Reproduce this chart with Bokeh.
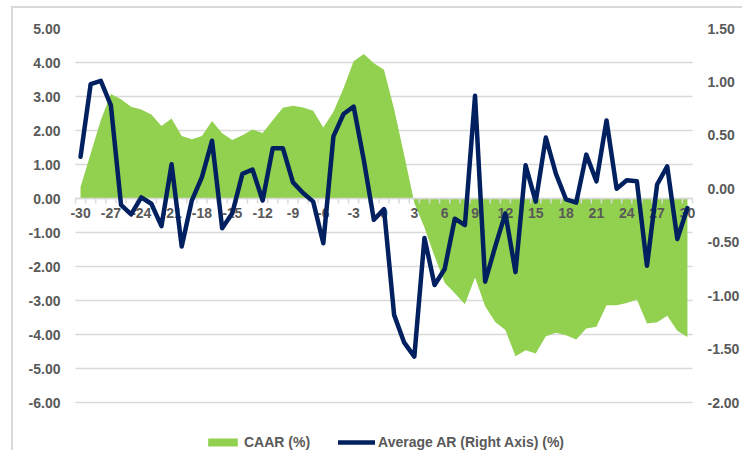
from bokeh.plotting import figure
from bokeh.models import (Range1d, LinearAxis, FixedTicker, NumeralTickFormatter,
                          Legend, LegendItem, Grid)
from bokeh.embed import file_html
from bokeh.resources import INLINE

# ---------------- data ----------------
days = list(range(-30, 31))

caar = [0.34, 1.32, 2.30, 3.07, 2.92, 2.70, 2.62, 2.47, 2.13, 2.35,
        1.84, 1.74, 1.84, 2.28, 1.92, 1.72, 1.86, 2.03, 1.93, 2.30,
        2.67, 2.73, 2.68, 2.58, 2.09, 2.55, 3.24, 4.04, 4.25, 3.98,
        3.79,
        2.63, 1.27, -0.13, -0.85, -1.70, -2.48, -2.79, -3.11, -2.32, -3.17,
        -3.63, -3.87, -4.64, -4.46, -4.56, -4.05, -3.95, -4.02, -4.15, -3.82,
        -3.77, -3.14, -3.14, -3.07, -2.97, -3.68, -3.64, -3.45, -3.89, -4.07]

avg_ar = [0.30, 0.98, 1.01, 0.78, -0.15, -0.24, -0.08, -0.14, -0.35, 0.23,
          -0.54, -0.11, 0.11, 0.45, -0.37, -0.23, 0.14, 0.18, -0.11, 0.38,
          0.38, 0.06, -0.04, -0.12, -0.51, 0.49, 0.70, 0.77, 0.27, -0.29,
          -0.19,
          -1.18, -1.44, -1.57, -0.46, -0.90, -0.75, -0.28, -0.34, 0.87, -0.87,
          -0.54, -0.23, -0.78, 0.22, -0.12, 0.48, 0.14, -0.10, -0.13, 0.32,
          0.07, 0.64, 0.00, 0.08, 0.07, -0.72, 0.04, 0.21, -0.47, -0.18]

x_tick_days = days[::3]
x_tick_labels = [str(d) for d in x_tick_days]
left_ticks = [-6, -5, -4, -3, -2, -1, 0, 1, 2, 3, 4, 5]
right_ticks = [-2.0, -1.5, -1.0, -0.5, 0.0, 0.5, 1.0, 1.5]

series_names = ["CAAR (%)", "Average AR (Right Axis) (%)"]

GREEN = "#92D050"
NAVY = "#002060"
TEXT = "#595959"
GRID = "#D9D9D9"
FONT = "Liberation Sans"
FSIZE = "14px"

# ---------------- layout numbers (pixels) ----------------
PLOT_W = 617          # width of the gridded plotting area
PLOT_H = 374          # height of the gridded plotting area
LEGEND_H = 48         # room below the gridded area for the legend
PAD = 12              # room left/right so edge category labels are not clipped
px_left = (left_ticks[-1] - left_ticks[0]) / PLOT_H
px_right = (right_ticks[-1] - right_ticks[0]) / PLOT_H
x_lo, x_hi = days[0] - 0.5, days[-1] + 0.5
px_x = (x_hi - x_lo) / PLOT_W

p = figure(frame_width=PLOT_W + 2 * PAD, frame_height=PLOT_H + LEGEND_H,
           x_range=Range1d(x_lo - PAD * px_x, x_hi + PAD * px_x),
           y_range=Range1d(left_ticks[0] - LEGEND_H * px_left, left_ticks[-1]),
           x_axis_location=None, y_axis_location=None,
           output_backend="svg", toolbar_location=None,
           min_border_left=62 - PAD, min_border_top=20, min_border_right=44 - PAD,
           min_border_bottom=0)
p.extra_y_ranges = {"right": Range1d(right_ticks[0] - LEGEND_H * px_right,
                                     right_ticks[-1])}
p.outline_line_color = None
p.background_fill_color = "white"
p.border_fill_color = "white"
p.xgrid.visible = False
p.ygrid.visible = False

# horizontal gridlines limited to the category span
if "cross_bounds" in Grid.properties():
    p.add_layout(Grid(dimension=1, ticker=FixedTicker(ticks=left_ticks),
                      cross_bounds=(x_lo, x_hi),
                      grid_line_color=GRID, grid_line_width=1.5))
else:
    g = p.segment(x0=x_lo, x1=x_hi, y0=left_ticks, y1=left_ticks,
                  line_color=GRID, line_width=1.5)
    g.level = "underlay"

# left / right value axes
la = LinearAxis(ticker=FixedTicker(ticks=left_ticks),
                formatter=NumeralTickFormatter(format="0.00"))
ra = LinearAxis(y_range_name="right", ticker=FixedTicker(ticks=right_ticks),
                formatter=NumeralTickFormatter(format="0.00"))
for ax in (la, ra):
    ax.axis_line_color = None
    ax.major_tick_line_color = None
    ax.minor_tick_line_color = None
    ax.major_tick_out = 0
    ax.major_tick_in = 0
    ax.minor_tick_out = 0
    ax.major_label_text_font = FONT
    ax.major_label_text_font_size = FSIZE
    ax.major_label_text_font_style = "bold"
    ax.major_label_text_color = TEXT
    ax.major_label_standoff = 15 - PAD
p.add_layout(la, "left")
p.add_layout(ra, "right")

# ---------------- glyphs ----------------
area_r = p.varea(x=days, y1=0, y2=caar, fill_color=GREEN, fill_alpha=1.0)

# category axis crossing at zero: line, tick marks between categories, labels
bounds = [d - 0.5 for d in days] + [days[-1] + 0.5]
p.segment(x0=bounds[0], x1=bounds[-1], y0=0, y1=0,
          line_color=GRID, line_width=1.5)
p.segment(x0=bounds, x1=bounds, y0=0, y1=-5 * px_left,
          line_color=GRID, line_width=1.5)
p.text(x=x_tick_days, y=0, text=x_tick_labels, y_offset=9,
       text_align="center", text_baseline="top",
       text_font={"value": FONT}, text_font_size={"value": FSIZE},
       text_font_style="bold", text_color=TEXT)

line_r = p.line(x=days, y=avg_ar, y_range_name="right", line_color=NAVY,
                line_width=4.5, line_join="round", line_cap="round")
line_r.level = "overlay"

legend = Legend(items=[LegendItem(label=series_names[0], renderers=[area_r]),
                       LegendItem(label=series_names[1], renderers=[line_r])],
                orientation="horizontal", location=(129 + PAD, 0),
                glyph_width=37, glyph_height=10, label_standoff=3,
                spacing=28, padding=0, margin=0,
                label_text_font=FONT, label_text_font_size=FSIZE,
                label_text_font_style="bold", label_text_color=TEXT,
                border_line_color=None, background_fill_alpha=0)
p.add_layout(legend, "center")

p.styles = {"margin-left": "11px", "margin-top": "6px",
            "border-top": "2px solid #D9D9D9", "border-left": "2px solid #D9D9D9"}

open("out.html", "w").write(file_html(p, INLINE))
